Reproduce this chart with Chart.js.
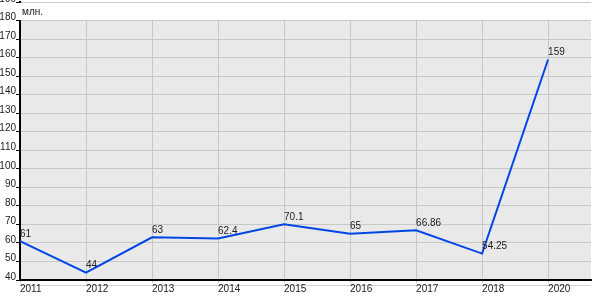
<!DOCTYPE html>
<html>
<head>
<meta charset="utf-8">
<script src="https://cdn.jsdelivr.net/npm/chart.js@4/dist/chart.umd.min.js"></script>
<style>
  html, body { margin: 0; padding: 0; background: #fff; }
  #wrap { width: 600px; height: 300px; }
</style>
</head>
<body>
<div id="wrap"><canvas id="lineChart"></canvas></div>
<script>
// data
var years = ['2011', '2012', '2013', '2014', '2015', '2016', '2017', '2018', '2020'];
var values = [61, 44, 63, 62.4, 70.1, 65, 66.86, 54.25, 159];
var yTicks = [40, 50, 60, 70, 80, 90, 100, 110, 120, 130, 140, 150, 160, 170, 180, 190];
var unitLabel = 'млн.';
var shadeTop = 180;

var FONT = 'Arial, "Liberation Sans", sans-serif';

// gray plot area below 180, white band above it
var plotBands = {
  id: 'plotBands',
  beforeDraw: function (chart) {
    var a = chart.chartArea, y = chart.scales.y, ctx = chart.ctx;
    var yTop = y.getPixelForValue(shadeTop);
    ctx.save();
    ctx.fillStyle = '#e9e9e9';
    ctx.fillRect(a.left, yTop, a.right - a.left, a.bottom - yTop);
    // faint rule under the x axis
    ctx.strokeStyle = '#d0d0d0';
    ctx.lineWidth = 1;
    ctx.beginPath();
    ctx.moveTo(a.left, a.bottom + 5.5);
    ctx.lineTo(a.right, a.bottom + 5.5);
    ctx.stroke();
    ctx.restore();
  },
  beforeDatasetsDraw: function (chart) {
    var a = chart.chartArea, y = chart.scales.y, ctx = chart.ctx;
    var yTop = y.getPixelForValue(shadeTop);
    ctx.save();
    ctx.fillStyle = '#ffffff';
    ctx.fillRect(a.left - 2, a.top + 1, a.right - a.left + 3, yTop - a.top - 1.5);
    ctx.restore();
  },
  afterDraw: function (chart) {
    var a = chart.chartArea, y = chart.scales.y, ctx = chart.ctx;
    ctx.save();
    ctx.font = '10px ' + FONT;
    ctx.fillStyle = '#222';
    ctx.textAlign = 'left';
    ctx.textBaseline = 'bottom';
    ctx.fillText(unitLabel, a.left + 2, y.getPixelForValue(shadeTop) - 3);
    // value labels
    var meta = chart.getDatasetMeta(0);
    meta.data.forEach(function (pt, i) {
      ctx.fillText(String(values[i]), pt.x, pt.y - 2);
    });
    ctx.restore();
  }
};

var config = {
  type: 'line',
  data: {
    datasets: [{
      data: values.map(function (v, i) { return { x: i, y: v }; }),
      borderColor: '#0046e6',
      borderWidth: 2,
      pointRadius: 0,
      tension: 0,
      fill: false
    }]
  },
  options: {
    responsive: true,
    maintainAspectRatio: false,
    animation: false,
    layout: { padding: { top: 2, right: 9, left: 0, bottom: 0 } },
    plugins: { legend: { display: false }, tooltip: { enabled: false } },
    scales: {
      x: {
        type: 'linear',
        min: 0,
        max: 8.65,
        afterBuildTicks: function (scale) {
          scale.ticks = years.map(function (y, i) { return { value: i }; });
        },
        afterFit: function (scale) {
          scale.height = 20;
          scale.paddingLeft = 0;
          scale.paddingRight = 0;
        },
        ticks: {
          autoSkip: false,
          maxRotation: 0,
          align: 'start',
          padding: 0,
          color: '#222',
          font: { family: FONT, size: 10 },
          callback: function (v) { return years[v]; }
        },
        grid: { color: '#c8c8c8', tickLength: 3, tickColor: '#c8c8c8' },
        border: { color: '#000', width: 2 }
      },
      y: {
        min: 40,
        max: 190,
        afterBuildTicks: function (scale) {
          scale.ticks = yTicks.map(function (v) { return { value: v }; });
        },
        afterFit: function (scale) {
          scale.width = 20;
          scale.paddingTop = 0;
          scale.paddingBottom = 0;
        },
        ticks: {
          padding: 0,
          labelOffset: -3,
          color: '#222',
          font: { family: FONT, size: 10 }
        },
        grid: { color: '#c8c8c8', tickLength: 4, tickColor: '#000' },
        border: { color: '#000', width: 2 }
      }
    }
  },
  plugins: [plotBands]
};

var ctx = document.getElementById('lineChart');
window.chart = new Chart(ctx, config);
</script>
</body>
</html>
